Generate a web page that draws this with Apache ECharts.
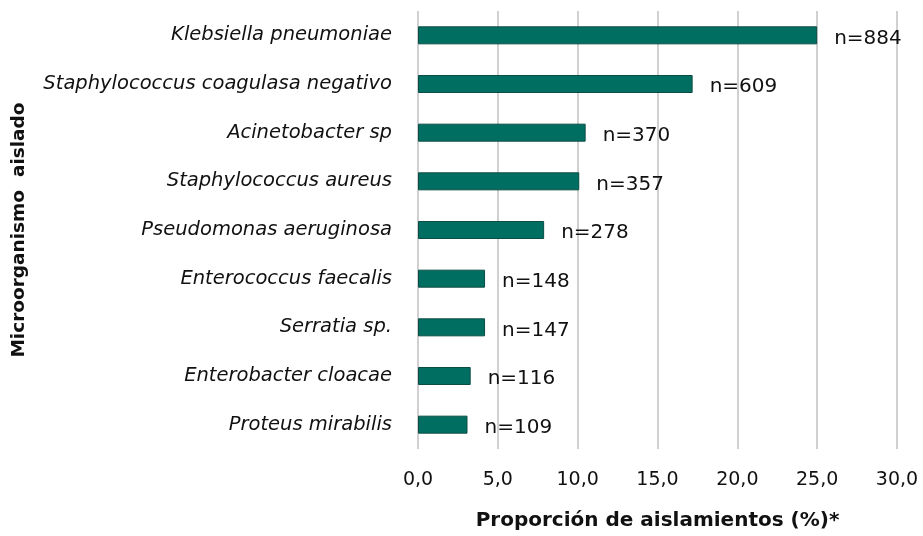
<!DOCTYPE html>
<html lang="es">
<head>
<meta charset="UTF-8">
<title>Microorganismo aislado</title>
<script src="https://cdn.jsdelivr.net/npm/echarts@6/dist/echarts.min.js"></script>
<style>
  body { margin: 0; background: #fff; }
  #chart { width: 923px; height: 536px; }
</style>
</head>
<body>
<div id="chart"></div>
<script>
// data, top to bottom as in the picture
const organisms = [
  'Klebsiella pneumoniae',
  'Staphylococcus coagulasa negativo',
  'Acinetobacter sp',
  'Staphylococcus aureus',
  'Pseudomonas aeruginosa',
  'Enterococcus faecalis',
  'Serratia sp.',
  'Enterobacter cloacae',
  'Proteus mirabilis'
];
const percents = [25.0, 17.2, 10.5, 10.1, 7.9, 4.2, 4.2, 3.3, 3.1];
const counts = [884, 609, 370, 357, 278, 148, 147, 116, 109];
const xTicks = [0, 5, 10, 15, 20, 25, 30];

const font = '"DejaVu Sans", sans-serif';

const chart = echarts.init(document.getElementById('chart'));
chart.setOption({
  animation: false,
  textStyle: { fontFamily: font },
  grid: { left: 418, right: 26, top: 11, bottom: 87, containLabel: false, outerBoundsMode: 'none' },
  xAxis: {
    type: 'value',
    min: xTicks[0],
    max: xTicks[xTicks.length - 1],
    interval: 5,
    name: 'Proporción de aislamientos (%)*',
    nameLocation: 'middle',
    nameGap: 62,
    nameTextStyle: { fontSize: 20, fontWeight: 'bold', color: '#111' },
    axisLine: { show: false },
    axisTick: { show: false },
    axisLabel: {
      margin: 22,
      fontSize: 19,
      color: '#111',
      formatter: v => v.toFixed(1).replace('.', ',')
    },
    splitLine: { lineStyle: { color: '#d0d0d0', width: 2 } }
  },
  yAxis: {
    type: 'category',
    data: organisms,
    inverse: true,
    name: 'Microorganismo  aislado',
    nameLocation: 'middle',
    nameGap: 389,
    nameRotate: 90,
    nameTextStyle: { fontSize: 18.5, fontWeight: 'bold', color: '#111' },
    axisLine: { show: false },
    axisTick: { show: false },
    axisLabel: {
      margin: 26,
      fontSize: 19.5,
      fontStyle: 'italic',
      color: '#111'
    }
  },
  series: [{
    type: 'bar',
    data: percents,
    barCategoryGap: '63%',
    itemStyle: { color: '#006f62', borderColor: '#0b4d44', borderWidth: 1 },
    label: {
      show: true,
      position: 'right',
      distance: 17,
      offset: [0, 3],
      fontSize: 20,
      color: '#111',
      formatter: p => 'n=' + counts[p.dataIndex]
    }
  }]
});
</script>
</body>
</html>
